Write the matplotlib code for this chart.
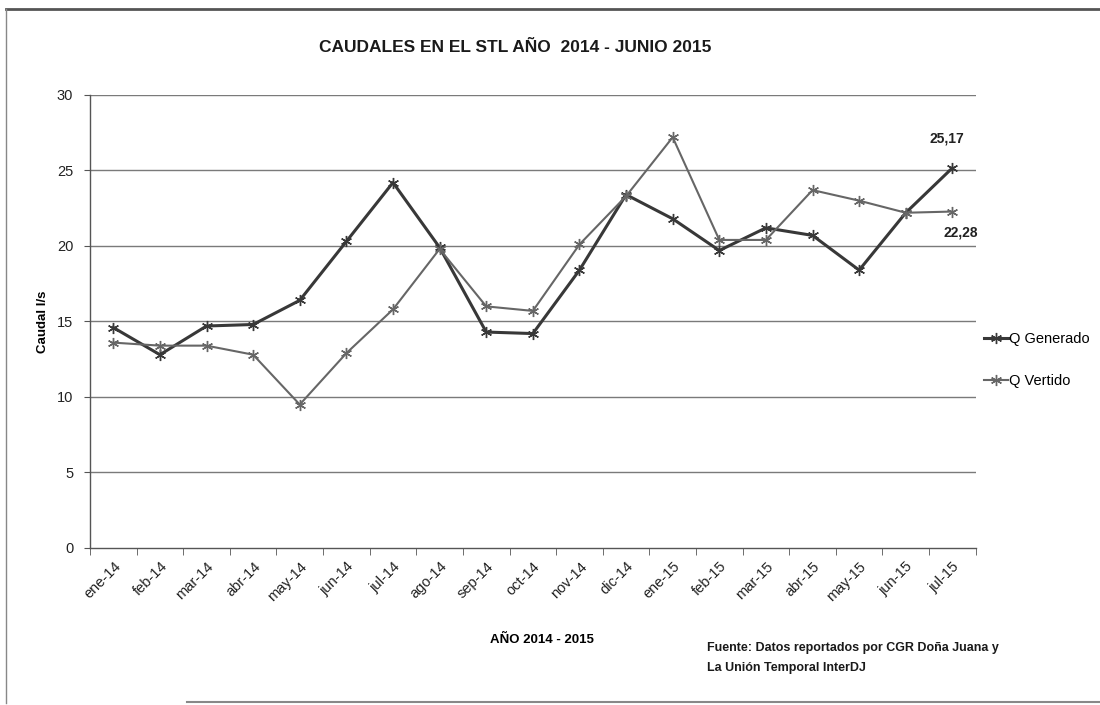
import matplotlib.pyplot as plt
import numpy as np
from matplotlib.lines import Line2D

plt.rcParams['font.family'] = ['Liberation Sans', 'DejaVu Sans']

meses = ['ene-14', 'feb-14', 'mar-14', 'abr-14', 'may-14', 'jun-14', 'jul-14',
         'ago-14', 'sep-14', 'oct-14', 'nov-14', 'dic-14', 'ene-15', 'feb-15',
         'mar-15', 'abr-15', 'may-15', 'jun-15', 'jul-15']
q_generado = [14.6, 12.8, 14.7, 14.8, 16.4, 20.3, 24.2, 19.9, 14.3, 14.2,
              18.4, 23.4, 21.8, 19.7, 21.2, 20.7, 18.4, 22.2, 25.17]
q_vertido = [13.6, 13.4, 13.4, 12.8, 9.5, 12.9, 15.8, 19.8, 16.0, 15.7,
             20.1, 23.3, 27.2, 20.4, 20.4, 23.7, 23.0, 22.2, 22.28]

fig = plt.figure(figsize=(11, 7.05), dpi=100)
ax = fig.add_axes([0.0818, 0.2227, 0.8052, 0.6426])

x = np.arange(len(meses))
star = (6, 2, 0)
ax.plot(x, q_generado, color='#383838', lw=2.2, marker=star, ms=8, mew=1.0,
        label='Q Generado', zorder=3)
ax.plot(x, q_vertido, color='#666666', lw=1.5, marker=star, ms=8, mew=1.0,
        label='Q Vertido', zorder=3)

ax.set_xlim(-0.5, len(meses) - 0.5)
ax.set_ylim(0, 30)
ax.set_yticks(range(0, 31, 5))
for v in range(5, 31, 5):
    ax.axhline(v, color='#7a7a7a', lw=1.0, zorder=1)

ax.set_xticks(x)
ax.set_xticklabels(meses, rotation=45, ha='right', rotation_mode='anchor',
                   fontsize=10.5, color='#222222')
ax.set_xticks(np.arange(-0.5, len(meses), 1), minor=True)
ax.tick_params(axis='x', which='major', length=0, pad=8)
ax.tick_params(axis='x', which='minor', length=5, color='#555555', direction='out')
ax.tick_params(axis='y', length=4, color='#555555', labelsize=10.5,
               labelcolor='#222222', pad=8)

for s in ['top', 'right']:
    ax.spines[s].set_visible(False)
for s in ['left', 'bottom']:
    ax.spines[s].set_color('#555555')
    ax.spines[s].set_linewidth(1.0)

ax.set_ylabel('Caudal l/s', fontsize=9.5, fontweight='bold', labelpad=6)
ax.set_xlabel('AÑO 2014 - 2015', fontsize=9.5, fontweight='bold', labelpad=22,
              x=0.51)

ax.annotate('25,17', (x[-1], q_generado[-1]), xytext=(-4, 18),
            textcoords='offset points', ha='center', fontsize=10,
            fontweight='bold', color='#222222')
ax.annotate('22,28', (x[-1], q_vertido[-1]), xytext=(6, -18),
            textcoords='offset points', ha='center', fontsize=10,
            fontweight='bold', color='#222222')

fig.text(0.468, 0.933, 'CAUDALES EN EL STL AÑO  2014 - JUNIO 2015',
         ha='center', va='center', fontsize=12.5, fontweight='bold',
         color='#1a1a1a')

ax.legend(loc='center left', bbox_to_anchor=(0.995, 0.415), frameon=False,
          handlelength=1.6, handletextpad=0.1, labelspacing=1.9, fontsize=10.5)

fig.text(0.643, 0.081, 'Fuente: Datos reportados por CGR Doña Juana y',
         fontsize=9, fontweight='bold', va='center', color='#1a1a1a')
fig.text(0.643, 0.052, 'La Unión Temporal InterDJ',
         fontsize=9, fontweight='bold', va='center', color='#1a1a1a')

# marco del documento escaneado
fig.add_artist(Line2D([0.005, 1.0], [0.987, 0.987], color='#555555', lw=2,
                      transform=fig.transFigure))
fig.add_artist(Line2D([0.0055, 0.0055], [0.003, 0.987], color='#888888', lw=1,
                      transform=fig.transFigure))
fig.add_artist(Line2D([0.17, 1.0], [0.004, 0.004], color='#888888', lw=1.5,
                      transform=fig.transFigure))

fig.savefig('out.png', dpi=100)
